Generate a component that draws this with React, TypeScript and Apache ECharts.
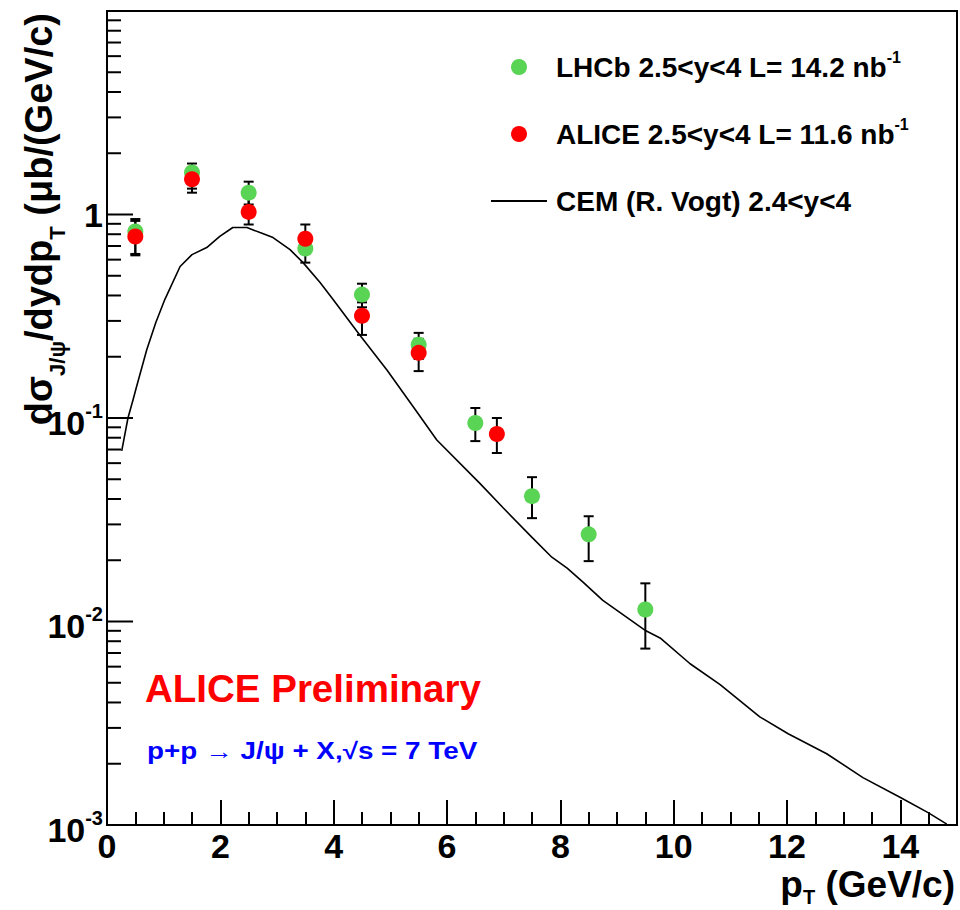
import { useEffect, useRef } from 'react';
import * as echarts from 'echarts';

// J/psi differential cross section vs pT, pp at 7 TeV, forward rapidity
const FONT = 'Liberation Sans, Arial, Helvetica, sans-serif';

const lhcbPt = [0.5, 1.5, 2.5, 3.5, 4.5, 5.5, 6.5, 7.5, 8.5, 9.5];
const lhcbValues = [0.825, 1.61, 1.28, 0.68, 0.404, 0.229, 0.0945, 0.0413, 0.0268, 0.01146];
const lhcbLow = [0.63, 1.34, 1.12, 0.58, 0.35, 0.195, 0.077, 0.0322, 0.0198, 0.00736];
const lhcbHigh = [0.95, 1.78, 1.45, 0.8, 0.457, 0.262, 0.112, 0.0512, 0.0329, 0.0154];

const alicePt = [0.5, 1.5, 2.5, 3.5, 4.5, 5.5, 6.88];
const aliceValues = [0.78, 1.49, 1.03, 0.76, 0.318, 0.209, 0.0834];
const aliceLow = [0.64, 1.28, 0.893, 0.64, 0.256, 0.17, 0.0673];
const aliceHigh = [0.93, 1.7, 1.23, 0.893, 0.37, 0.245, 0.1];

const cemPt = [
  0.26, 0.37, 0.46, 0.52, 0.7, 0.86, 1.02, 1.29, 1.5, 1.76, 1.99, 2.22, 2.47, 2.7, 2.93,
  3.23, 3.46, 3.76, 3.99, 4.46, 4.94, 5.47, 5.82, 6.58, 6.99, 7.5, 7.85, 8.12, 8.4, 8.75,
  9.51, 9.76, 10.29, 10.82, 11.52, 12.02, 12.7, 13.34, 14.01, 14.49, 14.82,
];
const cemValues = [
  0.069, 0.1, 0.123, 0.142, 0.216, 0.294, 0.382, 0.555, 0.635, 0.688, 0.78, 0.863, 0.863,
  0.815, 0.77, 0.672, 0.58, 0.463, 0.382, 0.256, 0.172, 0.107, 0.078, 0.0477, 0.0362,
  0.0259, 0.0207, 0.0183, 0.0156, 0.0127, 0.009, 0.0083, 0.0062, 0.0049, 0.0034, 0.00281,
  0.00224, 0.00171, 0.00136, 0.00115, 0.00101,
];

const legendNames = ['LHCb 2.5<y<4 L= 14.2 nb', 'ALICE 2.5<y<4 L= 11.6 nb', 'CEM (R. Vogt) 2.4<y<4'];
const legendSups = ['-1', '-1', ''];

const yDecades = [0.001, 0.01, 0.1, 1];
const yMinorSteps = [2, 3, 4, 5, 6, 7, 8, 9];

const GREEN = '#59d454';
const RED = '#ff0000';

// thin horizontal bar filling the legend icon box (corner dots fix the 56x16 extent)
const LINE_ICON = 'path://M0,0h0.05v0.05h-0.05zM0,7.1h56v1.8h-56zM55.95,15.95h0.05v0.05h-0.05z';

export default function App() {
  const ref = useRef<HTMLDivElement>(null);

  useEffect(() => {
    if (!ref.current) return;
    const chart = echarts.init(ref.current, null, { renderer: 'svg' });

    // log-axis tick marks: decades long, 2..9 short
    const yTicks: number[][] = [];
    yDecades.forEach((d) => {
      yTicks.push([0, d, 1]);
      yMinorSteps.forEach((m) => yTicks.push([0, m * d, 0]));
    });
    yTicks.push([0, 10, 1]);

    const errorData = (xs: number[], vs: number[], lo: number[], hi: number[]) =>
      xs.map((x, i) => [x, vs[i], lo[i], hi[i]]);

    const errorRender = (_p: any, api: any) => {
      const x = api.value(0);
      const a = api.coord([x, api.value(3)]);
      const b = api.coord([x, api.value(2)]);
      const w = 5;
      const st = { stroke: '#000', lineWidth: 2 };
      return {
        type: 'group',
        children: [
          { type: 'line', shape: { x1: a[0], y1: a[1], x2: b[0], y2: b[1] }, style: st },
          { type: 'line', shape: { x1: a[0] - w, y1: a[1], x2: a[0] + w, y2: a[1] }, style: st },
          { type: 'line', shape: { x1: b[0] - w, y1: b[1], x2: b[0] + w, y2: b[1] }, style: st },
        ],
      };
    };

    const yLabel = (v: number) => {
      const e = Math.round(Math.log10(v));
      if (e === 1) return '';
      if (e === 0) return '{one|1}';
      return `{b|10}{s|${e}}`;
    };

    chart.setOption({
      animation: false,
      backgroundColor: '#fff',
      grid: {
        left: 107,
        right: 3,
        top: 11,
        bottom: 85,
        show: true,
        borderColor: '#000',
        borderWidth: 2,
      },
      xAxis: [
        {
          type: 'value',
          min: 0,
          max: 15,
          interval: 2,
          position: 'bottom',
          axisLine: { show: true, lineStyle: { color: '#000', width: 2 } },
          axisTick: { show: true, inside: true, length: 25, lineStyle: { color: '#000', width: 2 } },
          splitLine: { show: false },
          axisLabel: {
            margin: 4,
            color: '#000',
            fontFamily: FONT,
            fontWeight: 'bold',
            fontSize: 34,
            lineHeight: 34,
            formatter: (v: number) => (v === 15 ? '' : String(v)),
          },
        },
        {
          type: 'value',
          min: 0,
          max: 15,
          interval: 0.5,
          position: 'bottom',
          axisLine: { show: false },
          axisTick: { show: true, inside: true, length: 13, lineStyle: { color: '#000', width: 2 } },
          splitLine: { show: false },
          axisLabel: { show: false },
        },
      ],
      yAxis: {
        type: 'log',
        logBase: 10,
        min: 0.001,
        max: 10,
        axisLine: { show: true, lineStyle: { color: '#000', width: 2 } },
        axisTick: { show: false },
        splitLine: { show: false },
        axisLabel: {
          margin: 4,
          color: '#000',
          fontFamily: FONT,
          fontWeight: 'bold',
          formatter: yLabel,
          rich: {
            one: { fontFamily: FONT, fontWeight: 'bold', fontSize: 34, lineHeight: 34, color: '#000' },
            b: {
              fontFamily: FONT,
              fontWeight: 'bold',
              fontSize: 34,
              lineHeight: 43,
              padding: [9, 0, 0, 0],
              verticalAlign: 'top',
              color: '#000',
            },
            s: {
              fontFamily: FONT,
              fontWeight: 'bold',
              fontSize: 20,
              lineHeight: 24,
              padding: [4, 0, 0, 0],
              verticalAlign: 'top',
              color: '#000',
            },
          },
        },
      },
      legend: {
        data: [
          { name: legendNames[0], icon: 'circle' },
          { name: legendNames[1], icon: 'circle' },
          { name: legendNames[2], icon: LINE_ICON, itemStyle: { color: '#000' } },
        ],
        orient: 'vertical',
        left: 491,
        top: 49,
        padding: 0,
        itemWidth: 56,
        itemHeight: 16,
        itemGap: 35,
        selectedMode: false,
        formatter: (name: string) => {
          const i = legendNames.indexOf(name);
          return `{t|${name}}` + (legendSups[i] ? `{s|${legendSups[i]}}` : '');
        },
        textStyle: {
          color: '#000',
          fontFamily: FONT,
          fontWeight: 'bold',
          fontSize: 28,
          rich: {
            t: {
              fontFamily: FONT,
              fontWeight: 'bold',
              fontSize: 28,
              lineHeight: 36,
              padding: [4, 0, 0, 4],
              verticalAlign: 'top',
              color: '#000',
            },
            s: {
              fontFamily: FONT,
              fontWeight: 'bold',
              fontSize: 16,
              lineHeight: 16,
              verticalAlign: 'top',
              color: '#000',
            },
          },
        },
      },
      series: [
        {
          name: 'ticks',
          type: 'custom',
          xAxisIndex: 0,
          yAxisIndex: 0,
          silent: true,
          z: 10,
          data: yTicks,
          renderItem: (_p: any, api: any) => {
            const pt = api.coord([api.value(0), api.value(1)]);
            const len = api.value(2) ? 26 : 14;
            return {
              type: 'line',
              shape: { x1: pt[0], y1: pt[1], x2: pt[0] + len, y2: pt[1] },
              style: { stroke: '#000', lineWidth: 2 },
            };
          },
        },
        {
          name: legendNames[2],
          type: 'line',
          data: cemPt.map((x, i) => [x, cemValues[i]]),
          symbol: 'none',
          showSymbol: false,
          lineStyle: { color: '#000', width: 1.6 },
          itemStyle: { color: '#000' },
          z: 2,
        },
        {
          name: 'lhcb-err',
          type: 'custom',
          z: 3,
          data: errorData(lhcbPt, lhcbValues, lhcbLow, lhcbHigh),
          encode: { x: 0, y: 1 },
          renderItem: errorRender,
        },
        {
          name: 'alice-err',
          type: 'custom',
          z: 3,
          data: errorData(alicePt, aliceValues, aliceLow, aliceHigh),
          encode: { x: 0, y: 1 },
          renderItem: errorRender,
        },
        {
          name: legendNames[0],
          type: 'scatter',
          symbol: 'circle',
          symbolSize: 16,
          itemStyle: { color: GREEN, opacity: 1 },
          data: lhcbPt.map((x, i) => [x, lhcbValues[i]]),
          z: 4,
        },
        {
          name: legendNames[1],
          type: 'scatter',
          symbol: 'circle',
          symbolSize: 16,
          itemStyle: { color: RED, opacity: 1 },
          data: alicePt.map((x, i) => [x, aliceValues[i]]),
          z: 5,
        },
      ],
      graphic: [
        {
          type: 'text',
          x: 20,
          y: 13,
          rotation: Math.PI / 2,
          style: {
            text: '{m|dσ}{s|J/ψ}{m|/dydp}{s|T}{m| (μb/(GeV/c)}',
            align: 'right',
            verticalAlign: 'top',
            fill: '#000',
            rich: {
              m: { fontFamily: FONT, fontWeight: 'bold', fontSize: 38, lineHeight: 38, verticalAlign: 'top', fill: '#000' },
              s: {
                fontFamily: FONT,
                fontWeight: 'bold',
                fontSize: 22,
                lineHeight: 48,
                padding: [26, 0, 0, 0],
                verticalAlign: 'top',
                fill: '#000',
              },
            },
          },
        },
        {
          type: 'text',
          x: 955,
          y: 866,
          style: {
            text: '{m|p}{s|T}{m| (GeV/c)}',
            align: 'right',
            verticalAlign: 'top',
            fill: '#000',
            rich: {
              m: { fontFamily: FONT, fontWeight: 'bold', fontSize: 37, lineHeight: 37, verticalAlign: 'top', fill: '#000' },
              s: {
                fontFamily: FONT,
                fontWeight: 'bold',
                fontSize: 20,
                lineHeight: 41,
                padding: [21, 0, 0, 0],
                verticalAlign: 'top',
                fill: '#000',
              },
            },
          },
        },
        {
          type: 'text',
          x: 145,
          y: 688,
          style: {
            text: 'ALICE Preliminary',
            fontFamily: FONT,
            fontWeight: 'bold',
            fontSize: 38.5,
            fill: RED,
            verticalAlign: 'middle',
          },
        },
        {
          type: 'text',
          x: 147,
          y: 751,
          scaleX: 1.21,
          style: {
            text: 'p+p → J/ψ + X,√s = 7 TeV',
            fontFamily: FONT,
            fontWeight: 'bold',
            fontSize: 23,
            fill: '#0000ff',
            verticalAlign: 'middle',
          },
        },
      ],
    });

    return () => chart.dispose();
  }, []);

  return (
    <div
      ref={ref}
      style={{ position: 'absolute', left: 0, top: 0, width: 960, height: 910 }}
    />
  );
}
